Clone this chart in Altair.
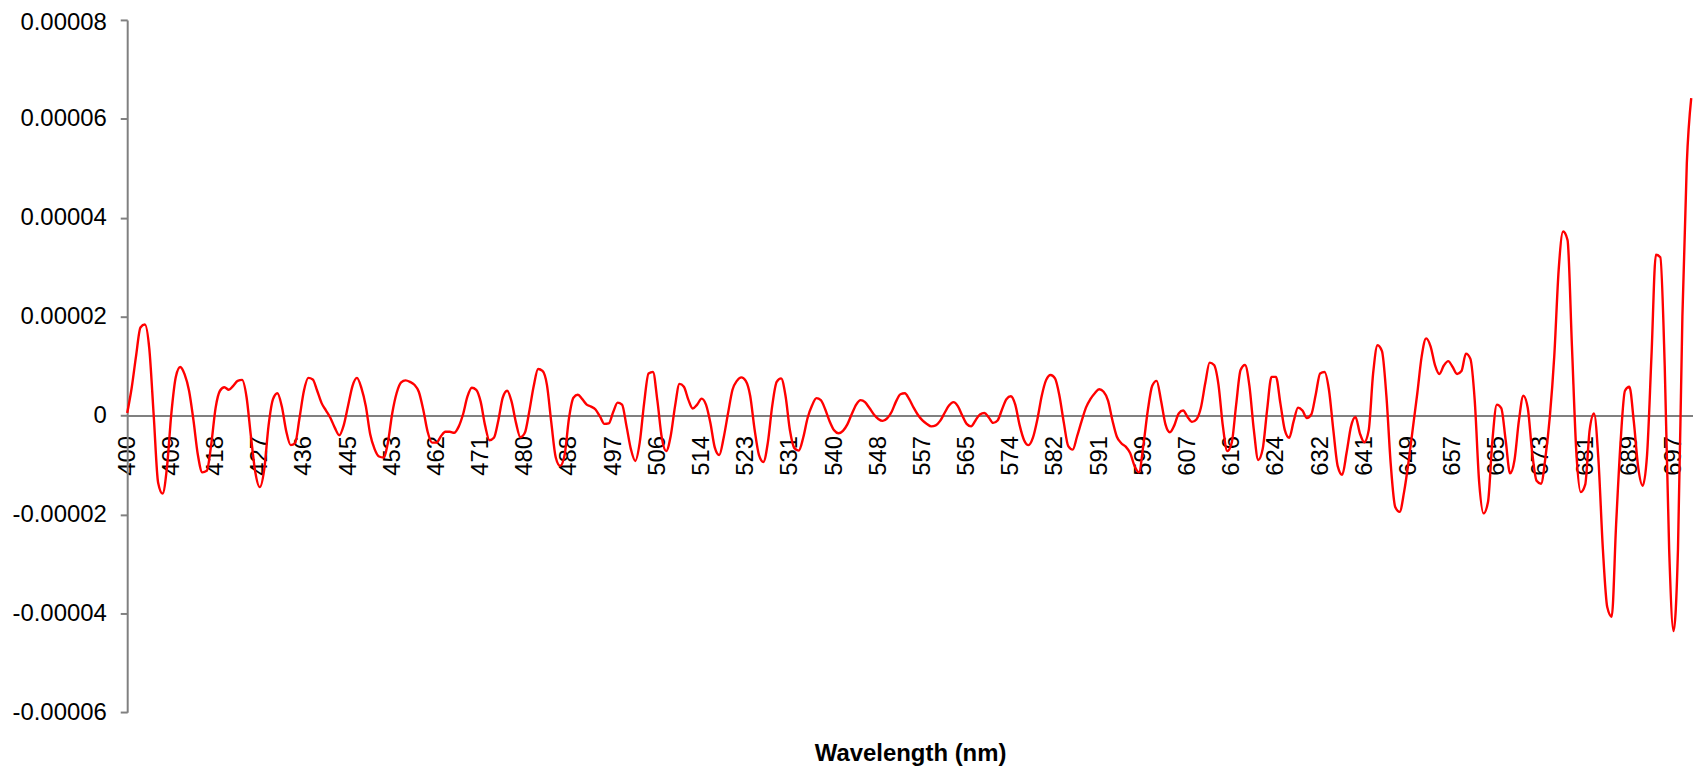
import altair as alt
import pandas as pd

# Category-axis labels (every 10th sample is labelled), wavelength in nm
tick_labels = ["400", "409", "418", "427", "436", "445", "453", "462", "471", "480",
               "488", "497", "506", "514", "523", "531", "540", "548", "557", "565",
               "574", "582", "591", "599", "607", "616", "624", "632", "641", "649",
               "657", "665", "673", "681", "689", "697"]
SAMPLES_PER_LABEL = 10

# Series values, in units of 1e-5, 10 samples per labelled interval
v400 = [0.05, 0.55, 1.2, 1.78, 1.84, 1.35, 0.0, -1.36, -1.58, -1.05]
v409 = [0.05, 0.78, 0.98, 0.83, 0.5, -0.1, -0.8, -1.15, -1.12, -0.6]
v418 = [0.15, 0.5, 0.57, 0.52, 0.6, 0.7, 0.72, 0.38, -0.42, -1.15]
v427 = [-1.45, -1.1, -0.2, 0.33, 0.45, 0.18, -0.32, -0.6, -0.56, -0.05]
v436 = [0.5, 0.76, 0.73, 0.5, 0.25, 0.1, -0.05, -0.25, -0.4, -0.2]
v445 = [0.2, 0.6, 0.76, 0.56, 0.19, -0.38, -0.68, -0.83, -0.85, -0.55]
v453 = [0.05, 0.46, 0.67, 0.71, 0.68, 0.62, 0.48, 0.12, -0.33, -0.55]
v462 = [-0.55, -0.42, -0.33, -0.33, -0.35, -0.23, 0.02, 0.38, 0.56, 0.52]
v471 = [0.28, -0.2, -0.5, -0.45, -0.1, 0.36, 0.5, 0.28, -0.15, -0.44]
v480 = [-0.35, 0.08, 0.59, 0.94, 0.9, 0.62, -0.15, -0.85, -1.02, -0.8]
v488 = [-0.05, 0.36, 0.42, 0.33, 0.22, 0.18, 0.12, -0.02, -0.17, -0.16]
v497 = [0.07, 0.26, 0.22, -0.21, -0.68, -0.92, -0.55, 0.25, 0.85, 0.88]
v506 = [0.3, -0.45, -0.72, -0.42, 0.19, 0.64, 0.58, 0.32, 0.14, 0.22]
v514 = [0.34, 0.22, -0.15, -0.65, -0.8, -0.45, 0.05, 0.52, 0.7, 0.77]
v523 = [0.7, 0.4, -0.28, -0.8, -0.94, -0.55, 0.2, 0.68, 0.75, 0.4]
v531 = [-0.3, -0.66, -0.71, -0.45, -0.05, 0.2, 0.35, 0.31, 0.12, -0.12]
v540 = [-0.3, -0.36, -0.31, -0.18, 0.03, 0.22, 0.31, 0.27, 0.15, 0.02]
v548 = [-0.07, -0.11, -0.06, 0.07, 0.28, 0.43, 0.45, 0.33, 0.16, 0.01]
v557 = [-0.1, -0.17, -0.22, -0.2, -0.11, 0.05, 0.2, 0.27, 0.19, 0.0]
v565 = [-0.17, -0.22, -0.1, 0.02, 0.05, -0.04, -0.15, -0.1, 0.12, 0.33]
v574 = [0.39, 0.22, -0.2, -0.5, -0.6, -0.45, -0.08, 0.4, 0.72, 0.82]
v582 = [0.75, 0.4, -0.15, -0.62, -0.69, -0.42, -0.12, 0.16, 0.33, 0.45]
v591 = [0.53, 0.48, 0.3, -0.1, -0.43, -0.56, -0.63, -0.76, -1.02, -1.15]
v599 = [-0.6, 0.1, 0.6, 0.7, 0.3, -0.18, -0.34, -0.2, 0.04, 0.1]
v607 = [-0.03, -0.13, -0.08, 0.15, 0.65, 1.07, 1.02, 0.62, -0.22, -0.72]
v616 = [-0.55, 0.22, 0.92, 1.02, 0.6, -0.29, -0.9, -0.68, 0.11, 0.78]
v624 = [0.78, 0.25, -0.29, -0.45, -0.12, 0.16, 0.1, -0.05, 0.02, 0.42]
v632 = [0.85, 0.88, 0.52, -0.3, -1.03, -1.2, -0.75, -0.22, -0.03, -0.36]
v641 = [-0.54, -0.3, 0.85, 1.42, 1.3, 0.4, -1.0, -1.85, -1.95, -1.55]
v649 = [-0.95, -0.25, 0.45, 1.2, 1.56, 1.4, 1.02, 0.84, 1.01, 1.1]
v657 = [0.98, 0.84, 0.9, 1.25, 1.15, 0.3, -1.35, -1.98, -1.75, -0.5]
v665 = [0.22, 0.15, -0.5, -1.17, -0.9, -0.1, 0.4, 0.15, -0.75, -1.32]
v673 = [-1.38, -0.85, -0.02, 1.2, 2.95, 3.72, 3.55, 1.4, -0.75, -1.55]
v681 = [-1.4, -0.3, 0.04, -0.9, -2.7, -3.88, -4.07, -2.2, -0.55, 0.5]
v689 = [0.58, -0.12, -1.05, -1.42, -0.8, 1.2, 3.25, 3.2, 1.0, -2.7]
v697 = [-4.36, -2.7, 2.0, 5.1, 6.42]

segments = [v400, v409, v418, v427, v436, v445, v453, v462, v471, v480, v488, v497,
            v506, v514, v523, v531, v540, v548, v557, v565, v574, v582, v591, v599,
            v607, v616, v624, v632, v641, v649, v657, v665, v673, v681, v689, v697]

y_ticks = [-0.00006, -0.00004, -0.00002, 0, 0.00002, 0.00004, 0.00006, 0.00008]

values = [v for seg in segments for v in seg]
df = pd.DataFrame({
    "sample": list(range(len(values))),
    "value": [v * 1e-5 for v in values],
})

W = 1572.3
H = 695.1
Y_MIN, Y_MAX = y_ticks[0], y_ticks[-1]
zero_offset = -H * (0 - Y_MIN) / (Y_MAX - Y_MIN)
X_MAX = 354.4

FONT = "Liberation Sans"
GRAY = "#808080"

label_js = "[" + ",".join("'" + t + "'" for t in tick_labels) + "]"

x_axis = alt.Axis(
    orient="bottom",
    offset=zero_offset,
    values=[i * SAMPLES_PER_LABEL for i in range(len(tick_labels))],
    labelExpr=label_js + "[round(datum.value / " + str(SAMPLES_PER_LABEL) + ")]",
    labelAngle=270,
    labelAlign="right",
    labelBaseline="middle",
    labelPadding=20,
    labelFontSize=24,
    labelFont=FONT,
    labelColor="#000000",
    labelFlush=False,
    labelOverlap=False,
    labelBound=False,
    ticks=False,
    grid=False,
    domainColor=GRAY,
    domainWidth=2,
    title="Wavelength (nm)",
    titleFont=FONT,
    titleFontSize=24,
    titleFontWeight="bold",
    titleColor="#000000",
    titleY=346.4,
    titleBaseline="alphabetic",
)

y_axis = alt.Axis(
    orient="left",
    values=y_ticks,
    labelExpr="datum.value == 0 ? '0' : (datum.value < 0 ? '-' : '') + format(abs(datum.value), '.5f')",
    labelFontSize=24,
    labelFont=FONT,
    labelColor="#000000",
    labelPadding=14,
    labelOffset={"condition": {"test": "datum.value > 0.00007", "value": 3}, "value": 0},
    labelOverlap=False,
    labelFlush=False,
    tickSize=7,
    tickWidth=2,
    tickColor=GRAY,
    domainColor=GRAY,
    domainWidth=2,
    grid=False,
)

chart = alt.Chart(df).mark_line(
    color="#FF0000", strokeWidth=2.4, interpolate="monotone"
).encode(
    x=alt.X("sample:Q", scale=alt.Scale(domain=[0, X_MAX], nice=False, zero=False), axis=x_axis),
    y=alt.Y("value:Q", scale=alt.Scale(domain=[Y_MIN, Y_MAX], nice=False, zero=False),
            axis=y_axis, title=None),
).properties(
    width=W,
    height=H,
    autosize=alt.AutoSizeParams(type="none"),
    padding={"left": 119.7, "top": 10.4, "right": 0, "bottom": 53.5},
    background="#FFFFFF",
).configure_view(
    strokeWidth=0
)

chart.save("out.html", embed_options={"renderer": "svg", "actions": False})
